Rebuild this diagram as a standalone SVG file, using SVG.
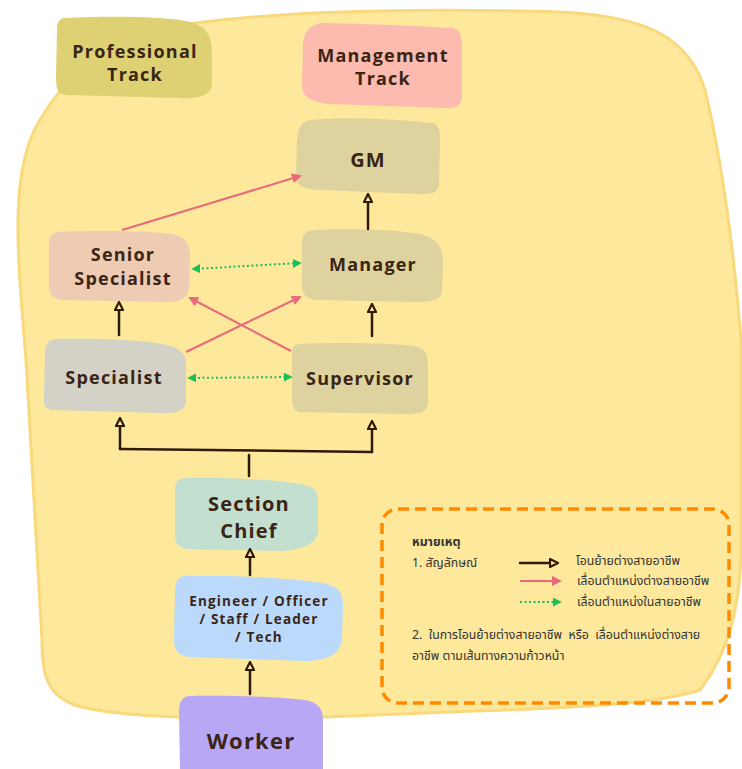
<svg xmlns="http://www.w3.org/2000/svg" width="742" height="769" viewBox="0 0 742 769">
<style>
.lbl{font-family:"Open Sans","Noto Sans",sans-serif;font-weight:700;fill:#3a2414;text-anchor:middle;letter-spacing:1.2px}
.th{font-family:"Noto Sans Thai","Noto Sans","DejaVu Sans",sans-serif;font-size:12.3px;fill:#333}
.blk{stroke:#2e1b0c;stroke-width:2.5;fill:none;stroke-linecap:round}
.pink{stroke:#e8697a;stroke-width:2;fill:none}
.grn{stroke:#19c05a;stroke-width:2;fill:none;stroke-dasharray:2 2.5}
</style>
<defs>
<marker id="hollow" viewBox="0 0 10 10" refX="5" refY="5" markerWidth="4" markerHeight="4" orient="auto">
<path d="M1,1 L9,5 L1,9 Z" fill="#fde89b" stroke="#2e1b0c" stroke-width="2.2"/>
</marker>
<marker id="ph" viewBox="0 0 10 10" refX="8" refY="5" markerWidth="5" markerHeight="5" orient="auto">
<path d="M0,0 L10,5 L0,10 Z" fill="#e8697a"/>
</marker>
<marker id="gh" viewBox="0 0 10 10" refX="8" refY="5" markerWidth="4.5" markerHeight="4.5" orient="auto-start-reverse">
<path d="M0,0 L10,5 L0,10 Z" fill="#19c05a"/>
</marker>
</defs>
<rect width="742" height="769" fill="#ffffff"/>
<g id="background">
<path d="M 150,30 C 260,10 420,8 560,12 C 650,16 690,40 705,90 C 722,160 735,260 741,340 L 741,560 C 738,610 730,650 700,690 C 650,706 560,708 450,712 L 300,718 C 200,720 110,716 75,705 C 45,695 42,670 42,640 L 26,360 C 18,260 8,170 40,120 C 70,70 110,40 150,30 Z" fill="#fde89b" stroke="#f9d97c" stroke-width="3"/>
</g>
<g id="professional-track">
<path d="M 64,18 C 110,16 165,16 190,22 C 210,27 212,40 212,55 L 212,84 C 211,96 198,99 180,98 L 66,95 C 57,94 56,88 56,76 L 57,30 C 57,22 59,19 64,18 Z" fill="#ded174"/>
<text class="lbl" font-size="18" x="135" y="58">Professional</text>
<text class="lbl" font-size="18" x="135" y="81">Track</text>
</g>
<g id="management-track">
<path d="M 325,23 C 370,24 420,26 452,28 C 461,30 462,38 462,48 L 462,96 C 461,106 456,108 448,108 L 330,104 C 310,102 302,96 302,86 L 303,44 C 304,30 312,23 325,23 Z" fill="#fdbaae"/>
<text class="lbl" font-size="18" x="383" y="62">Management</text>
<text class="lbl" font-size="18" x="383" y="85">Track</text>
</g>
<g id="gm">
<path d="M 312,120 C 350,116 400,120 432,123 C 440,125 440,132 440,140 L 439,185 C 438,193 432,194 420,194 L 320,190 C 303,189 296,186 296,176 L 297,140 C 298,126 302,121 312,120 Z" fill="#ded39e"/>
<text class="lbl" font-size="20" x="368" y="167">GM</text>
</g>
<g id="manager">
<path d="M 315,230 C 350,228 400,230 420,234 C 438,238 443,248 443,262 L 442,292 C 441,300 432,302 415,302 L 318,300 C 305,299 302,294 302,285 L 302,245 C 302,234 306,230 315,230 Z" fill="#ded39e"/>
<text class="lbl" font-size="18" x="373" y="271">Manager</text>
</g>
<g id="senior-specialist">
<path d="M 58,232 C 100,230 150,231 172,234 C 186,237 190,244 190,255 L 189,288 C 188,298 180,302 168,302 L 62,300 C 52,299 49,294 49,285 L 49,245 C 49,236 52,232 58,232 Z" fill="#efcbb4"/>
<text class="lbl" font-size="18" x="123" y="261">Senior</text>
<text class="lbl" font-size="18" x="123" y="285">Specialist</text>
</g>
<g id="specialist">
<path d="M 58,339 C 100,338 150,340 170,346 C 184,350 186,356 186,366 L 186,402 C 185,411 176,414 160,413 L 52,410 C 45,409 43,404 44,396 L 45,352 C 46,342 50,339 58,339 Z" fill="#d4d2c6"/>
<text class="lbl" font-size="18" x="114" y="384">Specialist</text>
</g>
<g id="supervisor">
<path d="M 300,344 C 340,342 390,343 414,346 C 426,348 428,356 428,366 L 428,404 C 427,412 420,414 405,414 L 300,412 C 293,411 292,405 292,398 L 292,354 C 292,347 294,344 300,344 Z" fill="#ded39e"/>
<text class="lbl" font-size="18" x="360" y="385">Supervisor</text>
</g>
<g id="section-chief">
<path d="M 186,478 C 230,477 280,480 305,485 C 317,488 318,494 318,502 L 318,532 C 317,545 300,550 280,551 L 188,549 C 178,548 175,543 175,535 L 175,490 C 175,481 179,478 186,478 Z" fill="#c3dfcf"/>
<text class="lbl" font-size="20" x="249" y="511">Section</text>
<text class="lbl" font-size="20" x="249" y="538">Chief</text>
</g>
<g id="engineer">
<path d="M 185,576 C 230,575 290,578 322,583 C 340,586 343,594 343,604 L 342,640 C 340,655 325,661 305,661 L 190,657 C 178,656 174,650 174,640 L 175,590 C 176,580 179,576 185,576 Z" fill="#bbdafb"/>
<text class="lbl" font-size="13.5" x="259" y="606">Engineer / Officer</text>
<text class="lbl" font-size="13.5" x="259" y="624">/ Staff / Leader</text>
<text class="lbl" font-size="13.5" x="259" y="642">/ Tech</text>
</g>
<g id="worker">
<path d="M 190,696 C 230,695 280,697 305,700 C 320,703 323,710 323,720 L 323,769 L 180,769 L 179,712 C 179,701 183,696 190,696 Z" fill="#b8a7f5"/>
<text class="lbl" font-size="22" x="251" y="749">Worker</text>
</g>
<g id="connectors">
<path class="blk" d="M 368,229 L 368,198" marker-end="url(#hollow)"/>
<path class="blk" d="M 119,335 L 119,306" marker-end="url(#hollow)"/>
<path class="blk" d="M 372,336 L 372,308" marker-end="url(#hollow)"/>
<path class="blk" d="M 250,575 L 250,553" marker-end="url(#hollow)"/>
<path class="blk" d="M 250,694 L 250,666" marker-end="url(#hollow)"/>
<path class="blk" d="M 249,476 L 249,455"/>
<path class="blk" d="M 120,449 L 372,452"/>
<path class="blk" d="M 120,449 L 120,422" marker-end="url(#hollow)"/>
<path class="blk" d="M 372,452 L 372,425" marker-end="url(#hollow)"/>
<path class="pink" d="M 122,230 L 300,176" marker-end="url(#ph)"/>
<path class="pink" d="M 186,352 L 300,297" marker-end="url(#ph)"/>
<path class="pink" d="M 291,351 L 190,298" marker-end="url(#ph)"/>
<path class="grn" d="M 193,269 L 300,263" marker-start="url(#gh)" marker-end="url(#gh)"/>
<path class="grn" d="M 189,378 L 291,377" marker-start="url(#gh)" marker-end="url(#gh)"/>
</g>
<g id="legend">
<rect x="382" y="509" width="347" height="194" rx="16" fill="none" stroke="#ff8a00" stroke-width="3.5" stroke-dasharray="11 6"/>
<text class="th" x="412" y="546" font-weight="700">หมายเหตุ</text>
<text class="th" x="412" y="567">1. สัญลักษณ์</text>
<path class="blk" d="M 520,563 L 554,563" marker-end="url(#hollow)"/>
<text class="th" x="576" y="565">โอนย้ายต่างสายอาชีพ</text>
<path class="pink" d="M 520,581 L 560,581" marker-end="url(#ph)"/>
<text class="th" x="577" y="585">เลื่อนตำแหน่งต่างสายอาชีพ</text>
<path class="grn" d="M 520,602 L 560,602" marker-end="url(#gh)"/>
<text class="th" x="577" y="606">เลื่อนตำแหน่งในสายอาชีพ</text>
<text class="th" x="412" y="639" xml:space="preserve">2.  ในการโอนย้ายต่างสายอาชีพ  หรือ  เลื่อนตำแหน่งต่างสาย</text>
<text class="th" x="412" y="660">อาชีพ ตามเส้นทางความก้าวหน้า</text>
</g>
</svg>
